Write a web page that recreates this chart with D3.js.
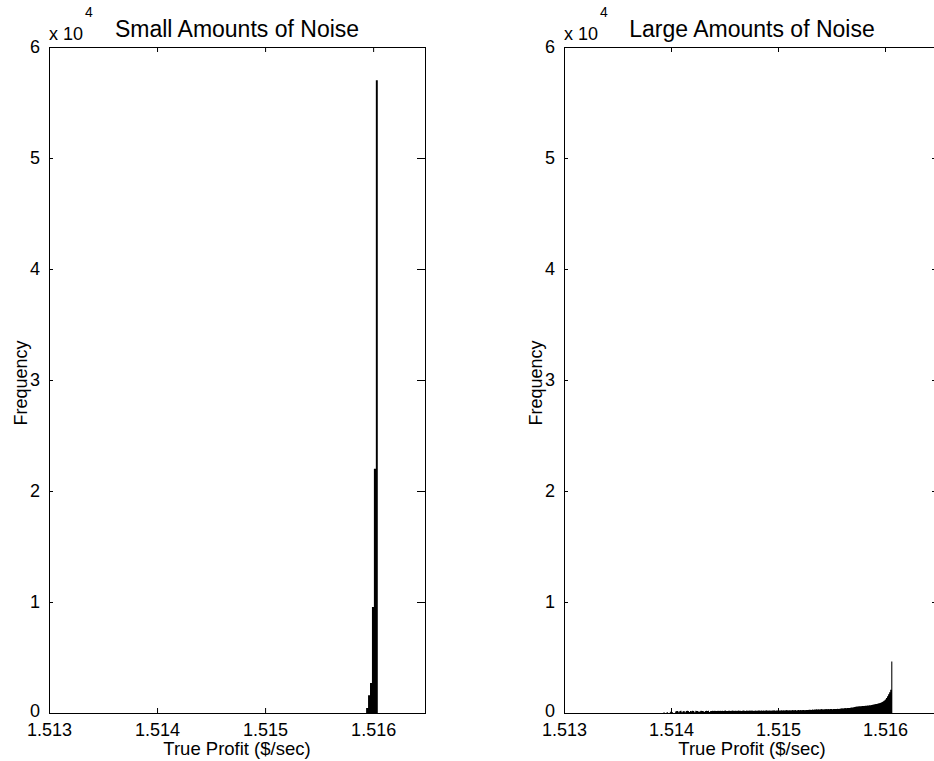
<!DOCTYPE html>
<html>
<head>
<meta charset="utf-8">
<script src="https://cdn.jsdelivr.net/npm/d3@7/dist/d3.min.js"></script>
<style>
  html, body { margin: 0; padding: 0; background: #fff; }
  svg { display: block; }
  text { font-family: "Liberation Sans", Arial, Helvetica, sans-serif; fill: #000; }
</style>
</head>
<body>
<svg id="chart" width="934" height="761"></svg>
<script>
// Histogram of true profit, small noise: bins start at leftBinStart, each leftBinWidth wide
const leftBinStart = 1.515935;
const leftBinWidth = 0.000018;
const leftCounts = [450, 1600, 2700, 9550, 22000, 57000];

// Histogram of true profit, large noise
const rightBinStart = 1.51393;
const rightBinWidth = 0.0000099;
const rightCounts = [
  60, 0, 0, 90, 0, 0, 110, 0, 70, 0, 0, 130,
  190, 170, 60, 180, 200, 70, 160, 190, 60, 180, 210, 170, 80, 190, 160, 200, 180, 70, 210, 170,
  190, 80, 160, 200, 190, 170, 90, 180, 210, 190, 200, 100, 170, 190, 200, 180, 210, 170, 190, 200,
  190, 200, 180, 210, 190, 200, 220, 190, 180, 210,
  200, 190, 210, 220, 180, 200, 210, 190, 220, 200,
  210, 190, 200, 220, 210, 190, 230, 200, 210, 220,
  200, 220, 210, 190, 230, 210, 200, 220, 230, 210,
  220, 200, 230, 210, 220, 240, 210, 230, 220, 200,
  230, 220, 240, 210, 230, 220, 250, 230, 220, 240,
  230, 250, 220, 240, 260, 230, 250, 240, 230, 260,
  250, 240, 260, 230, 250, 270, 240, 260, 250, 270,
  260, 250, 270, 280, 260, 290, 300, 280, 310,
  300, 320, 310, 330, 320, 340, 310, 330, 350, 320, 340, 330, 350, 340, 360, 330, 350, 370, 340, 360,
  350, 370, 360, 380, 370,
  390, 400, 420, 410, 430, 440, 420, 450, 460, 450, 470, 490,
  500, 520, 540, 560, 580,
  590, 600, 610, 600, 620, 630, 640, 650, 660, 670, 680,
  690, 700, 720, 740, 760, 780, 800,
  820, 850, 880, 900, 940,
  980, 1050, 1130,
  1220, 1350,
  1500,
  1700, 1860,
  2100,
  4650
];

const titles = ["Small Amounts of Noise", "Large Amounts of Noise"];
const xTicks = [1.513, 1.514, 1.515, 1.516];
const yTicks = [0, 10000, 20000, 30000, 40000, 50000, 60000];
const yTickLabels = ["0", "1", "2", "3", "4", "5", "6"];
const xDomains = [[1.513, 1.51648], [1.513, 1.516514]];
const xLabel = "True Profit ($/sec)";
const yLabel = "Frequency";

// Layout of the two axes boxes
const plotTop = 47, plotBottom = 713, plotW = 376;
const panelLeft = [49, 564];

const svg = d3.select("#chart");

const series = [
  { start: leftBinStart, width: leftBinWidth, counts: leftCounts },
  { start: rightBinStart, width: rightBinWidth, counts: rightCounts }
];

series.forEach((s, k) => {
  const g = svg.append("g").attr("transform", `translate(${panelLeft[k]},0)`);
  const x = d3.scaleLinear().domain(xDomains[k]).range([0, plotW]);
  const y = d3.scaleLinear().domain([0, 60000]).range([plotBottom, plotTop]);

  const clipId = "clip" + k;
  g.append("clipPath").attr("id", clipId)
    .append("rect").attr("x", 0).attr("y", plotTop).attr("width", plotW).attr("height", plotBottom - plotTop);

  // bars as one stepped outline so neighbouring bins join without seams
  const pts = s.counts.map((c, i) => ({ x0: s.start + i * s.width, c }));
  pts.push({ x0: s.start + s.counts.length * s.width, c: s.counts[s.counts.length - 1] });
  const area = d3.area()
    .x(d => x(d.x0))
    .y0(y(0))
    .y1(d => y(d.c))
    .curve(d3.curveStepAfter);
  g.append("path")
    .attr("clip-path", `url(#${clipId})`)
    .attr("d", area(pts))
    .attr("fill", "#000")
    .attr("stroke", "none");

  const fmt = d3.format(".3f");
  const tickFont = "18px";

  // bottom axis
  const xb = g.append("g").attr("transform", `translate(0,${plotBottom})`)
    .call(d3.axisBottom(x).tickValues(xTicks).tickFormat(fmt).tickSizeInner(-5).tickSizeOuter(0).tickPadding(10));
  // top axis (ticks only)
  const xt = g.append("g").attr("transform", `translate(0,${plotTop})`)
    .call(d3.axisTop(x).tickValues(xTicks).tickFormat("").tickSizeInner(-5).tickSizeOuter(0));
  // left axis
  const yl = g.append("g")
    .call(d3.axisLeft(y).tickValues(yTicks).tickFormat((d, i) => yTickLabels[i]).tickSizeInner(-4).tickSizeOuter(0).tickPadding(9));
  // right axis (ticks only)
  const yr = g.append("g").attr("transform", `translate(${plotW},0)`)
    .call(d3.axisRight(y).tickValues(yTicks).tickFormat("").tickSizeInner(-8).tickSizeOuter(0));

  [xb, xt, yl, yr].forEach(a => {
    a.select(".domain").remove();
    a.selectAll("line").attr("stroke", "#000");
    a.selectAll("text").attr("font-size", tickFont).attr("font-family", null).attr("fill", "#000");
  });
  // the zero label sits just above the first x tick label
  yl.selectAll(".tick text").filter(d => d === 0).attr("dy", "0.2em");

  // axes box
  g.append("rect")
    .attr("x", 0.5).attr("y", plotTop + 0.5)
    .attr("width", plotW).attr("height", plotBottom - plotTop)
    .attr("fill", "none").attr("stroke", "#000").attr("stroke-width", 1);

  // title
  g.append("text")
    .attr("x", plotW / 2).attr("y", 37)
    .attr("text-anchor", "middle")
    .attr("font-size", "23px")
    .text(titles[k]);

  // axis multiplier
  g.append("text").attr("x", 0).attr("y", 40).attr("font-size", "18px").text("x 10");
  g.append("text").attr("x", 36).attr("y", 17).attr("font-size", "14px").text("4");

  // x label
  g.append("text")
    .attr("x", plotW / 2).attr("y", 755)
    .attr("text-anchor", "middle")
    .attr("font-size", "18.5px")
    .text(xLabel);

  // y label
  g.append("text")
    .attr("transform", `translate(-22,${(plotTop + plotBottom) / 2 + 3}) rotate(-90)`)
    .attr("text-anchor", "middle")
    .attr("font-size", "18px")
    .text(yLabel);
});
</script>
</body>
</html>
